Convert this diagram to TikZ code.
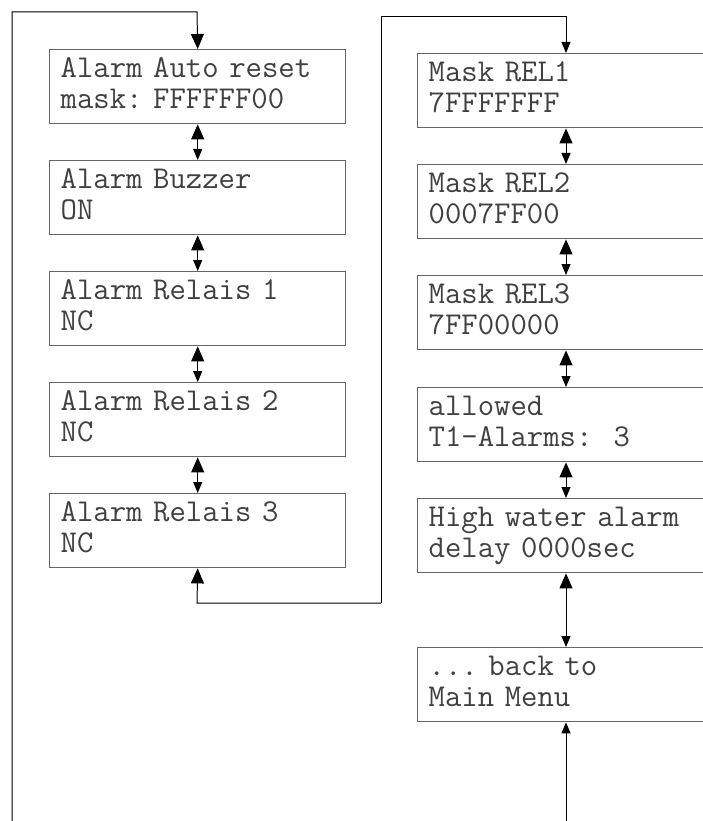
\documentclass[tikz,border=0pt]{standalone}
\usetikzlibrary{arrows.meta}
\newcommand{\lstrut}{\vphantom{Aly}}
\tikzset{
  menubox/.style={draw=black!60, line width=1.4pt, rectangle, minimum width=296pt,
    minimum height=74pt, inner sep=0pt, text width=274pt, align=left,
    font=\ttfamily\frenchspacing\fontsize{31.8}{31}\selectfont, text=black!75, anchor=north west},
  conn/.style={draw=black, line width=1pt},
  bigtip/.style={-{Triangle[length=15pt,width=13pt]}},
  dbl/.style={{Triangle[length=15pt,width=13pt]}-{Triangle[length=11pt,width=9pt]}},
  smalltip/.style={-{Triangle[length=11pt,width=9pt]}},
}
\begin{document}
\begin{tikzpicture}[x=1pt,y=-1pt]
\useasboundingbox (0,0) rectangle (702,821);
% left column
\node[menubox] (a1) at (49,49)  {\lstrut Alarm Auto reset\\mask: FFFFFF00\lstrut};
\node[menubox] (a2) at (49,160) {\lstrut Alarm Buzzer\\ON\lstrut};
\node[menubox] (a3) at (49,271) {\lstrut Alarm Relais 1\\NC\lstrut};
\node[menubox] (a4) at (49,382) {\lstrut Alarm Relais 2\\NC\lstrut};
\node[menubox] (a5) at (49,493) {\lstrut Alarm Relais 3\\NC\lstrut};
% right column
\node[menubox] (b1) at (417,53)  {\lstrut Mask REL1\\7FFFFFFF\lstrut};
\node[menubox] (b2) at (417,164) {\lstrut Mask REL2\\0007FF00\lstrut};
\node[menubox] (b3) at (417,275) {\lstrut Mask REL3\\7FF00000\lstrut};
\node[menubox] (b4) at (417,387) {\lstrut allowed\\T1-Alarms:~~3\lstrut};
\node[menubox] (b5) at (417,498) {\lstrut High water alarm\\delay 0000sec\lstrut};
\node[menubox] (b6) at (417,647) {\lstrut ... back to\\Main Menu\lstrut};
% coordinates
\coordinate (lb) at (12,821);
\coordinate (lt) at (12,12);
\coordinate (ltr) at (197,12);
\coordinate (m1) at (197,603);
\coordinate (m2) at (381,603);
\coordinate (m3) at (381,17);
\coordinate (m4) at (566,17);
\coordinate (rb) at (566,821);
% connectors
\draw[conn,bigtip] (lb) -- (lt) -- (ltr) -- (a1.north);
\draw[conn,dbl] (a1.south) -- (a2.north);
\draw[conn,dbl] (a2.south) -- (a3.north);
\draw[conn,dbl] (a3.south) -- (a4.north);
\draw[conn,dbl] (a4.south) -- (a5.north);
\draw[conn,bigtip] (m2) -- (m1) -- (a5.south);
\draw[conn,smalltip] (m2) -- (m3) -- (m4) -- (b1.north -| m4);
\draw[conn,dbl] (b1.south -| m4) -- (b2.north -| m4);
\draw[conn,dbl] (b2.south -| m4) -- (b3.north -| m4);
\draw[conn,dbl] (b3.south -| m4) -- (b4.north -| m4);
\draw[conn,dbl] (b4.south -| m4) -- (b5.north -| m4);
\draw[conn,dbl] (b5.south -| m4) -- (b6.north -| m4);
\draw[conn,smalltip] (rb) -- (b6.south -| m4);
\end{tikzpicture}
\end{document}
